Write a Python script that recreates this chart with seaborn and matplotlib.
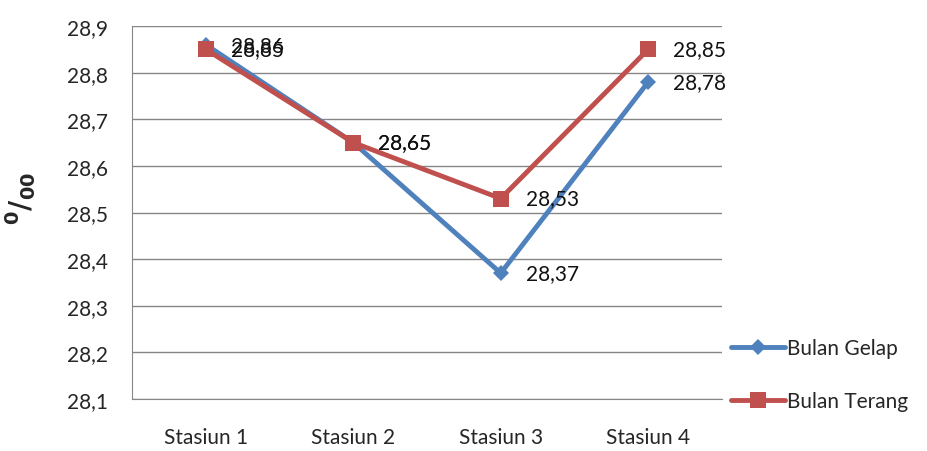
import numpy as np
import pandas as pd
import matplotlib
matplotlib.use("Agg")
import matplotlib.pyplot as plt
import seaborn as sns

stations = ["Stasiun 1", "Stasiun 2", "Stasiun 3", "Stasiun 4"]
gelap = [28.86, 28.65, 28.37, 28.78]
terang = [28.85, 28.65, 28.53, 28.85]
series_names = ["Bulan Gelap", "Bulan Terang"]
y_ticks = [28.1, 28.2, 28.3, 28.4, 28.5, 28.6, 28.7, 28.8, 28.9]

COLORS = {"Bulan Gelap": "#4F81BD", "Bulan Terang": "#C0504D"}
MARKERS = {"Bulan Gelap": "D", "Bulan Terang": "s"}
FS = 15

df = pd.DataFrame({
    "Stasiun": stations * 2,
    "value": gelap + terang,
    "series": [series_names[0]] * 4 + [series_names[1]] * 4,
})

sns.set_style("white")
plt.rcParams["font.family"] = ["Lato", "DejaVu Sans"]

fig = plt.figure(figsize=(9.28, 4.52), dpi=100)
ax = fig.add_axes([132 / 928, 52 / 452, 590 / 928, 373 / 452])

sns.lineplot(data=df, x="Stasiun", y="value", hue="series", style="series",
             palette=COLORS, markers=MARKERS, dashes=False, lw=3.5,
             markersize=11, markeredgewidth=0, sort=False, ax=ax, legend=True)
# smaller diamonds, like the reference
for line in ax.get_lines():
    if line.get_marker() == "D":
        line.set_markersize(8)

for vals in (gelap, terang):
    for i, v in enumerate(vals):
        ax.text(i + 0.17, v, f"{v:.2f}".replace(".", ","), fontsize=FS,
                va="center", ha="left", color="#111111")

ax.set_xlim(-0.5, 3.5)
ax.set_ylim(28.1, 28.9)
ax.set_yticks(y_ticks)
ax.set_yticklabels([f"{t:.1f}".replace(".", ",") for t in y_ticks], fontsize=FS)
ax.tick_params(axis="x", labelsize=FS, pad=17)
ax.tick_params(axis="y", pad=14)
ax.set_xlabel("")
ax.set_ylabel("")
ax.grid(axis="y", color="#868686", lw=1)
ax.set_axisbelow(True)
for s in ["top", "right"]:
    ax.spines[s].set_visible(False)
for s in ["left", "bottom"]:
    ax.spines[s].set_color("#868686")

fig.text(21 / 928, 0.56, r"$\mathbf{^{0}/_{00}}$", rotation=90, fontsize=20,
         family="DejaVu Serif", ha="center", va="center")

ax.legend(loc="center left", bbox_to_anchor=(0.99, 0.065), frameon=False,
          fontsize=FS, handlelength=2.6, labelspacing=1.6, handletextpad=0.1,
          borderaxespad=0.3)

fig.savefig("out.png", dpi=100)
